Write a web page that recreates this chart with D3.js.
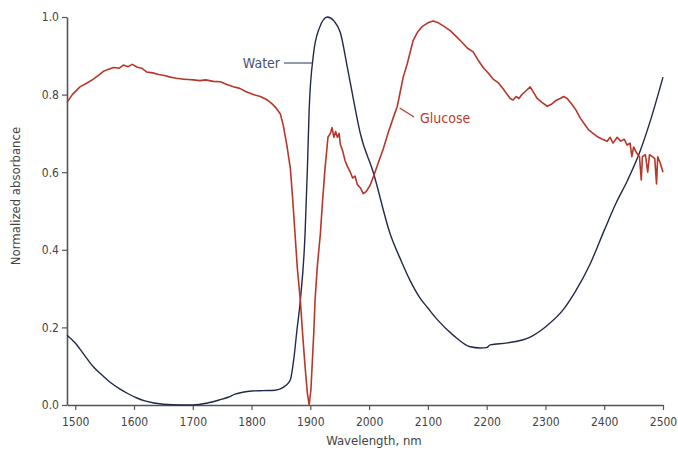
<!DOCTYPE html>
<html>
<head>
<meta charset="utf-8">
<script src="https://cdn.jsdelivr.net/npm/d3@7/dist/d3.min.js"></script>
<style>
  body { margin: 0; background: #fff; }
  svg text { font-family: "DejaVu Sans Condensed", "DejaVu Sans", sans-serif; font-stretch: condensed; }
</style>
</head>
<body>
<svg width="678" height="453"></svg>
<script>
// water spectrum (nm, normalized absorbance)
var waterWl = [1486, 1500, 1515, 1530, 1545, 1560, 1575, 1590, 1605, 1620, 1650, 1680, 1700, 1725, 1745, 1760, 1772, 1785, 1800, 1820, 1840, 1850, 1858, 1866, 1872, 1877, 1883, 1891, 1895, 1898, 1905, 1915, 1929, 1940, 1951, 1963, 1973, 1985, 2007, 2036, 2055, 2070, 2087, 2100, 2116, 2143, 2172, 2189, 2200, 2206, 2235, 2274, 2303, 2330, 2350, 2375, 2400, 2420, 2440, 2460, 2480, 2500];
var waterVal = [0.18, 0.16, 0.13, 0.10, 0.078, 0.058, 0.042, 0.029, 0.018, 0.01, 0.002, 0.0, 0.0, 0.005, 0.013, 0.02, 0.028, 0.033, 0.036, 0.037, 0.038, 0.042, 0.05, 0.065, 0.12, 0.19, 0.27, 0.44, 0.61, 0.76, 0.9, 0.97, 1.0, 0.99, 0.96, 0.87, 0.79, 0.70, 0.60, 0.44, 0.37, 0.32, 0.275, 0.25, 0.22, 0.18, 0.15, 0.147, 0.148, 0.155, 0.16, 0.175, 0.205, 0.245, 0.29, 0.36, 0.45, 0.52, 0.58, 0.65, 0.74, 0.845];

// glucose spectrum
var glucoseWl = [1486, 1495, 1508, 1520, 1531, 1540, 1548, 1556, 1565, 1575, 1582, 1590, 1597, 1605, 1613, 1622, 1632, 1642, 1652, 1662, 1672, 1682, 1692, 1701, 1712, 1722, 1735, 1747, 1758, 1769, 1780, 1790, 1803, 1815, 1827, 1835, 1842, 1849, 1854, 1860, 1866, 1870, 1874, 1878, 1883, 1887, 1891, 1895, 1898, 1901, 1903, 1906, 1908, 1912, 1917, 1921, 1925, 1930, 1934, 1937, 1940, 1943, 1946, 1949, 1951, 1955, 1959, 1963, 1968, 1972, 1976, 1980, 1985, 1990, 1995, 2002, 2010, 2017, 2024, 2032, 2041, 2048, 2058, 2065, 2075, 2082, 2090, 2100, 2109, 2118, 2128, 2138, 2148, 2158, 2167, 2177, 2185, 2194, 2203, 2211, 2220, 2228, 2235, 2240, 2245, 2250, 2255, 2260, 2267, 2274, 2280, 2286, 2294, 2303, 2310, 2318, 2325, 2331, 2337, 2345, 2352, 2359, 2366, 2373, 2381, 2390, 2397, 2405, 2410, 2415, 2422, 2428, 2434, 2439, 2444, 2447, 2450, 2455, 2460, 2463, 2465, 2470, 2474, 2477, 2482, 2486, 2489, 2491, 2495, 2498, 2500];
var glucoseVal = [0.78, 0.80, 0.82, 0.83, 0.84, 0.85, 0.86, 0.865, 0.87, 0.868, 0.876, 0.872, 0.878, 0.871, 0.868, 0.858, 0.856, 0.852, 0.849, 0.845, 0.842, 0.840, 0.839, 0.838, 0.836, 0.838, 0.834, 0.833, 0.826, 0.82, 0.816, 0.808, 0.80, 0.795, 0.786, 0.776, 0.765, 0.75, 0.72, 0.67, 0.61, 0.53, 0.44, 0.35, 0.27, 0.18, 0.10, 0.03, 0.0, 0.04, 0.10, 0.19, 0.27, 0.36, 0.44, 0.53, 0.61, 0.69, 0.70, 0.715, 0.69, 0.705, 0.69, 0.70, 0.672, 0.655, 0.63, 0.615, 0.60, 0.585, 0.59, 0.568, 0.56, 0.545, 0.55, 0.567, 0.60, 0.63, 0.66, 0.70, 0.74, 0.77, 0.845, 0.88, 0.94, 0.96, 0.975, 0.985, 0.99, 0.985, 0.975, 0.965, 0.95, 0.935, 0.92, 0.91, 0.89, 0.87, 0.855, 0.84, 0.83, 0.815, 0.80, 0.79, 0.786, 0.795, 0.79, 0.80, 0.81, 0.82, 0.805, 0.79, 0.78, 0.77, 0.775, 0.785, 0.79, 0.795, 0.79, 0.775, 0.76, 0.74, 0.725, 0.71, 0.70, 0.69, 0.685, 0.68, 0.69, 0.675, 0.69, 0.68, 0.685, 0.67, 0.675, 0.64, 0.665, 0.65, 0.64, 0.58, 0.64, 0.645, 0.60, 0.645, 0.64, 0.635, 0.57, 0.64, 0.625, 0.61, 0.60];

var xTicks = [1500, 1600, 1700, 1800, 1900, 2000, 2100, 2200, 2300, 2400, 2500];
var yTicks = [0, 0.2, 0.4, 0.6, 0.8, 1.0];

var svg = d3.select('svg');

var x = d3.scaleLinear().domain([1486, 2500]).range([67, 663]);
var y = d3.scaleLinear().domain([0, 1]).range([405, 17]);

var water = waterWl.map(function(w, i){ return {x: w, y: waterVal[i]}; });
var glucose = glucoseWl.map(function(w, i){ return {x: w, y: glucoseVal[i]}; });

// axes
var xAxis = svg.append('g')
    .attr('transform', 'translate(0,405)')
    .call(d3.axisBottom(x).tickValues(xTicks).tickSize(5).tickSizeOuter(0).tickFormat(d3.format('d')));
var yAxis = svg.append('g')
    .attr('transform', 'translate(67,0)')
    .call(d3.axisLeft(y).tickValues(yTicks).tickSize(5).tickSizeOuter(0).tickFormat(d3.format('.1f')));

[xAxis, yAxis].forEach(function(g){
    g.select('.domain').attr('stroke', '#555').attr('stroke-width', 1.6);
    g.selectAll('.tick line').attr('stroke', '#555').attr('stroke-width', 1.2);
    g.selectAll('.tick text').attr('fill', '#444').style('font-size', '12px');
});
xAxis.selectAll('.tick text').attr('dy', '1.1em');

svg.append('text')
    .attr('x', 374).attr('y', 445)
    .attr('text-anchor', 'middle')
    .attr('fill', '#444')
    .style('font-size', '13px')
    .text('Wavelength, nm');

svg.append('text')
    .attr('transform', 'translate(20,196) rotate(-90)')
    .attr('text-anchor', 'middle')
    .attr('fill', '#444')
    .style('font-size', '13px')
    .text('Normalized absorbance');

var line = d3.line()
    .x(function(d){ return x(d.x); })
    .y(function(d){ return y(d.y); });

svg.append('path')
    .datum(water)
    .attr('d', line.curve(d3.curveMonotoneX))
    .attr('fill', 'none')
    .attr('stroke', '#22294a')
    .attr('stroke-width', 1.4);

svg.append('path')
    .datum(glucose)
    .attr('d', line.curve(d3.curveLinear))
    .attr('fill', 'none')
    .attr('stroke', '#b8372a')
    .attr('stroke-width', 1.6)
    .attr('stroke-linejoin', 'round');

// labels with leader lines
svg.append('line')
    .attr('x1', 284).attr('y1', 63).attr('x2', x(1903)).attr('y2', 63)
    .attr('stroke', '#4a5470').attr('stroke-width', 1.2);
svg.append('text')
    .attr('x', 280).attr('y', 68)
    .attr('text-anchor', 'end')
    .attr('fill', '#44506e')
    .style('font-size', '14px')
    .text('Water');

svg.append('line')
    .attr('x1', x(2052)).attr('y1', 108).attr('x2', 414).attr('y2', 117)
    .attr('stroke', '#b8372a').attr('stroke-width', 1.2);
svg.append('text')
    .attr('x', 420).attr('y', 123)
    .attr('fill', '#c0392b')
    .style('font-size', '14px')
    .text('Glucose');
</script>
</body>
</html>
